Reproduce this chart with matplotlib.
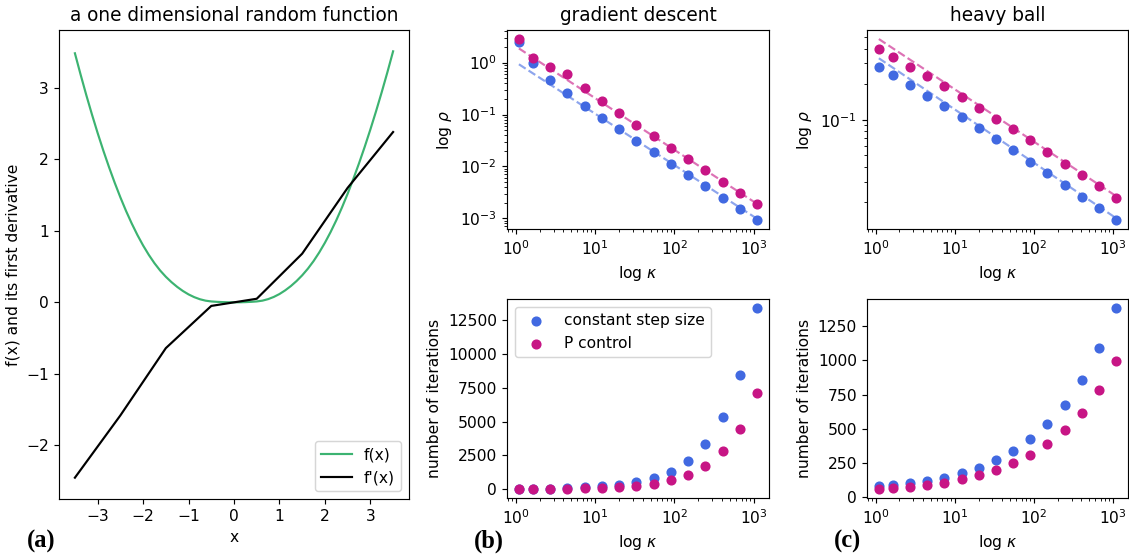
import numpy as np
import matplotlib
matplotlib.use("Agg")
import matplotlib.pyplot as plt
from matplotlib.ticker import MultipleLocator

# (a) random function: knots of f'(x) and f(x) sampled on a grid
x_knots = [-3.5, -2.5, -1.5, -0.5, 0.5, 1.5, 2.5, 3.5]
fprime_knots = [-2.45, -1.58, -0.64, -0.05, 0.05, 0.68, 1.60, 2.38]
x_grid = np.linspace(-3.5, 3.5, 57)
f_grid = [3.48, 3.183, 2.897, 2.625, 2.366, 2.121, 1.890, 1.672,
          1.4675, 1.277, 1.102, 0.941, 0.795, 0.664, 0.547, 0.445,
          0.3575, 0.282, 0.216, 0.159, 0.111, 0.0727, 0.0434, 0.0234,
          0.0125, 0.007, 0.0031, 0.0008, 0.0,
          0.0008, 0.0031, 0.007, 0.0125,
          0.0237, 0.0447, 0.0755, 0.116, 0.167, 0.227, 0.297, 0.3775,
          0.470, 0.576, 0.697, 0.8325, 0.982, 1.146, 1.325, 1.5175,
          1.724, 1.942, 2.172, 2.415, 2.670, 2.937, 3.216, 3.5075]

# condition numbers
kappa = [1.1, 1.65, 2.72, 4.48, 7.39, 12.2, 20.1, 33.1, 54.6, 90.0,
         148.4, 244.7, 403.4, 665.1, 1096.6]

# gradient descent: convergence rate
gd_rho_const = [2.54, 0.97, 0.464, 0.257, 0.147, 0.0863, 0.0522, 0.0312,
                0.0186, 0.01125, 0.0068, 0.00412, 0.0025, 0.00151, 0.00093]
gd_rho_p = [2.85, 1.25, 0.813, 0.605, 0.321, 0.183, 0.106, 0.0633, 0.0378,
            0.0229, 0.0138, 0.00838, 0.00507, 0.00307, 0.00189]
gd_fit_const = [0.93, 0.00098]   # dashed fit at kappa[0], kappa[-1]
gd_fit_p = [1.88, 0.0019]

# heavy ball: convergence rate
hb_rho_const = [0.282, 0.241, 0.196, 0.160, 0.130, 0.1047, 0.0849, 0.0689,
                0.0551, 0.0441, 0.0352, 0.0282, 0.0223, 0.0178, 0.0142]
hb_rho_p = [0.399, 0.343, 0.282, 0.234, 0.193, 0.156, 0.127, 0.1026, 0.0832,
            0.067, 0.0536, 0.0426, 0.0343, 0.0273, 0.0218]
hb_fit_const = [0.332, 0.0147]
hb_fit_p = [0.483, 0.0226]

# number of iterations
gd_iter_const = [18, 28, 45, 75, 120, 200, 320, 525, 825, 1300, 2100, 3375,
                 5325, 8450, 13420]
gd_iter_p = [12, 18, 28, 45, 70, 110, 160, 250, 375, 675, 1075, 1750, 2800,
             4450, 7125]
hb_iter_const = [81, 88, 101, 118, 143, 179, 216, 270, 339, 425, 536, 676,
                 858, 1087, 1382]
hb_iter_p = [61, 66, 73, 88, 108, 133, 165, 202, 253, 312, 388, 489, 617,
             784, 993]

c_const = "royalblue"
c_p = "mediumvioletred"

plt.rcParams["font.size"] = 10.7

W, H = 1129, 554
fig = plt.figure(figsize=(W / 104, H / 104), dpi=104)


def box(x0, y0, x1, y1):
    return [x0 / W, 1 - y1 / H, (x1 - x0) / W, (y1 - y0) / H]


# (a)
ax = fig.add_axes(box(59, 30, 409, 499))
ax.plot(x_grid, f_grid, color="mediumseagreen", label="f(x)")
ax.plot(x_knots, fprime_knots, color="black", label="f'(x)")
ax.xaxis.set_major_locator(MultipleLocator(1))
ax.yaxis.set_major_locator(MultipleLocator(1))
ax.set_title("a one dimensional random function")
ax.set_xlabel("x")
ax.set_ylabel("f(x) and its first derivative")
ax.legend(loc="lower right")

# (b) top
ax = fig.add_axes(box(507, 30, 769, 229))
ax.plot([kappa[0], kappa[-1]], gd_fit_const, "--", color=c_const, alpha=0.6)
ax.plot([kappa[0], kappa[-1]], gd_fit_p, "--", color=c_p, alpha=0.6)
ax.scatter(kappa, gd_rho_const, color=c_const, zorder=3)
ax.scatter(kappa, gd_rho_p, color=c_p, zorder=3)
ax.set_xscale("log")
ax.set_yscale("log")
ax.set_title("gradient descent")
ax.set_xlabel(r"log $\kappa$")
ax.set_ylabel(r"log $\rho$")

# (c) top
ax = fig.add_axes(box(867, 30, 1128, 229))
ax.plot([kappa[0], kappa[-1]], hb_fit_const, "--", color=c_const, alpha=0.6)
ax.plot([kappa[0], kappa[-1]], hb_fit_p, "--", color=c_p, alpha=0.6)
ax.scatter(kappa, hb_rho_const, color=c_const, zorder=3)
ax.scatter(kappa, hb_rho_p, color=c_p, zorder=3)
ax.set_xscale("log")
ax.set_yscale("log")
ax.set_title("heavy ball")
ax.set_xlabel(r"log $\kappa$")
ax.set_ylabel(r"log $\rho$")

# (b) bottom
ax = fig.add_axes(box(507, 299, 769, 498))
ax.scatter(kappa, gd_iter_const, color=c_const, label="constant step size")
ax.scatter(kappa, gd_iter_p, color=c_p, label="P control")
ax.set_xscale("log")
ax.set_xlabel(r"log $\kappa$")
ax.set_ylabel("number of iterations")
ax.legend(loc="upper left")

# (c) bottom
ax = fig.add_axes(box(867, 299, 1128, 498))
ax.scatter(kappa, hb_iter_const, color=c_const)
ax.scatter(kappa, hb_iter_p, color=c_p)
ax.set_xscale("log")
ax.set_xlabel(r"log $\kappa$")
ax.set_ylabel("number of iterations")

for lab, xp in [("(a)", 27), ("(b)", 474), ("(c)", 834)]:
    fig.text(xp / W, 1 - 548 / H, lab, family="Liberation Serif",
             weight="bold", fontsize=17)

fig.savefig("out.png", dpi=104)
